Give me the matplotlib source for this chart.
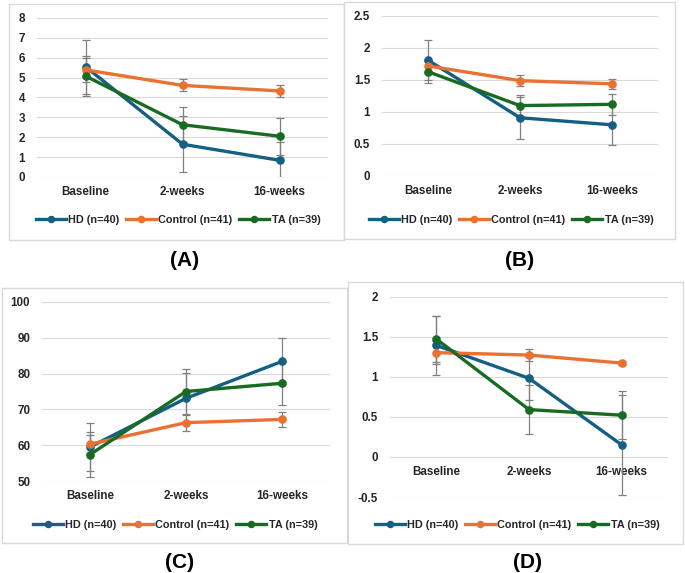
import numpy as np
import matplotlib
matplotlib.use("Agg")
import matplotlib.pyplot as plt
from matplotlib.patches import Rectangle
from matplotlib.lines import Line2D
from matplotlib.ticker import FuncFormatter

plt.rcParams['font.family'] = ['Liberation Sans', 'DejaVu Sans']

W, H = 685, 573

categories = ["Baseline", "2-weeks", "16-weeks"]
groups = ["HD (n=40)", "Control (n=41)", "TA (n=39)"]
colors = ["#156082", "#E97132", "#196B24"]

# panel A
hd_a = [5.55, 1.65, 0.84]
hd_a_err = [1.35, 1.40, 0.90]
ctrl_a = [5.39, 4.61, 4.33]
ctrl_a_err = [0.60, 0.30, 0.30]
ta_a = [5.08, 2.63, 2.05]
ta_a_err = [1.00, 0.90, 0.93]

# panel B
hd_b = [1.81, 0.91, 0.80]
hd_b_err = [0.31, 0.33, 0.32]
ctrl_b = [1.72, 1.49, 1.44]
ctrl_b_err = [0.10, 0.09, 0.08]
ta_b = [1.63, 1.10, 1.12]
ta_b_err = [0.17, 0.16, 0.16]

# panel C
hd_c = [59.5, 73.1, 83.4]
hd_c_err = [6.8, 7.0, 6.5]
ctrl_c = [60.3, 66.3, 67.2]
ctrl_c_err = [2.5, 2.2, 2.1]
ta_c = [57.4, 75.0, 77.3]
ta_c_err = [6.2, 6.2, 6.2]

# panel D
hd_d = [1.39, 0.98, 0.15]
hd_d_err = [0.37, 0.27, 0.62]
ctrl_d = [1.30, 1.27, 1.17]
ctrl_d_err = [0.14, 0.07, 0.03]
ta_d = [1.47, 0.59, 0.52]
ta_d_err = [0.29, 0.31, 0.30]

panels = [
    dict(tag="(A)", vals=[hd_a, ctrl_a, ta_a], errs=[hd_a_err, ctrl_a_err, ta_a_err],
         ylim=(0, 8), step=1, box=(9, 4, 344, 240), ax=(37, 18, 328, 177),
         leg=(178, 220), lab=(185, 260)),
    dict(tag="(B)", vals=[hd_b, ctrl_b, ta_b], errs=[hd_b_err, ctrl_b_err, ta_b_err],
         ylim=(0, 2.5), step=0.5, box=(344, 2, 675, 239), ax=(382, 16, 658, 176),
         leg=(511, 220), lab=(520, 260)),
    dict(tag="(C)", vals=[hd_c, ctrl_c, ta_c], errs=[hd_c_err, ctrl_c_err, ta_c_err],
         ylim=(50, 100), step=10, box=(2, 288, 347, 543), ax=(42, 302, 330, 481),
         leg=(175, 525), lab=(180, 562)),
    dict(tag="(D)", vals=[hd_d, ctrl_d, ta_d], errs=[hd_d_err, ctrl_d_err, ta_d_err],
         ylim=(-0.5, 2), step=0.5, box=(348, 282, 683, 544), ax=(390, 296.5, 668, 497),
         leg=(517, 525), lab=(527, 562)),
]

txt = "#262626"
fig = plt.figure(figsize=(W / 100, H / 100), dpi=100)

def fx(px):
    return px / W

def fy(py):
    return 1 - py / H

fmt = FuncFormatter(lambda v, p: ("%g" % v))

for p in panels:
    x0, y0, x1, y1 = p["box"]
    fig.patches.append(Rectangle((fx(x0), fy(y1)), fx(x1 - x0), (y1 - y0) / H,
                                 transform=fig.transFigure, facecolor="white",
                                 edgecolor="#d9d9d9", lw=1.0, zorder=-5))
    l, t, r, b = p["ax"]
    ax = fig.add_axes([fx(l), fy(b), fx(r - l), (b - t) / H])
    ax.patch.set_alpha(0)
    x = np.arange(len(categories))
    for vals, errs, c, g in zip(p["vals"], p["errs"], colors, groups):
        ax.plot(x, vals, color=c, lw=2.4, marker="o", ms=5.2, label=g, zorder=3)
        ax.errorbar(x, vals, yerr=errs, fmt="none", ecolor="#808080",
                    elinewidth=0.9, capsize=2.6, capthick=0.9, zorder=2)
    ax.set_xlim(-0.5, 2.5)
    lo, hi = p["ylim"]
    ax.set_ylim(lo, hi)
    ax.set_yticks(np.arange(lo, hi + p["step"] / 2, p["step"]))
    ax.yaxis.set_major_formatter(fmt)
    ax.set_xticks(x)
    ax.set_xticklabels(categories)
    ax.grid(axis="y", color="#d9d9d9", lw=0.8, zorder=0)
    ax.set_axisbelow(True)
    for s in ["top", "right", "left"]:
        ax.spines[s].set_visible(False)
    ax.spines["bottom"].set_position(("data", 0 if lo < 0 else lo))
    ax.spines["bottom"].set_color("none")
    ax.tick_params(axis="both", length=0, labelsize=8.4, labelcolor=txt)
    ax.tick_params(axis="x", pad=6.5)
    ax.tick_params(axis="y", pad=8.5)
    for lbl in ax.get_xticklabels() + ax.get_yticklabels():
        lbl.set_fontweight("bold")

    handles = [Line2D([], [], color=c, lw=2.4, marker="o", ms=4.4) for c in colors]
    lx, ly = p["leg"]
    leg = ax.legend(handles, groups, loc="center", bbox_to_anchor=(fx(lx), fy(ly)),
                    bbox_transform=fig.transFigure, ncol=3, frameon=False,
                    prop=dict(size=7.8, weight="bold"), handlelength=2.8,
                    handletextpad=0.2, columnspacing=0.6, borderpad=0)
    for t_ in leg.get_texts():
        t_.set_color(txt)

    tx, ty = p["lab"]
    fig.text(fx(tx), fy(ty), p["tag"], ha="center", va="center",
             fontsize=15, fontweight="bold", color="black")

fig.savefig("out.png", dpi=100)
